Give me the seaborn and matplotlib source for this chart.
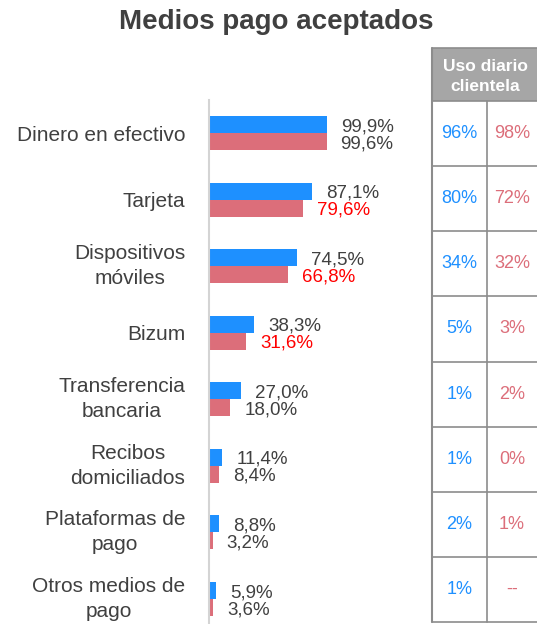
import matplotlib
matplotlib.use("Agg")
import matplotlib.pyplot as plt
from matplotlib.patches import Rectangle
import pandas as pd
import seaborn as sns

# Data
categories = ["Dinero en efectivo", "Tarjeta", "Dispositivos\nmóviles", "Bizum",
              "Transferencia\nbancaria", "Recibos\ndomiciliados",
              "Plataformas de\npago", "Otros medios de\npago"]
series = ["Serie azul", "Serie roja"]
blue_vals = [99.9, 87.1, 74.5, 38.3, 27.0, 11.4, 8.8, 5.9]
red_vals = [99.6, 79.6, 66.8, 31.6, 18.0, 8.4, 3.2, 3.6]
red_highlight = [False, True, True, True, False, False, False, False]
table_header = "Uso diario\nclientela"
uso_blue = ["96%", "80%", "34%", "5%", "1%", "1%", "2%", "1%"]
uso_red = ["98%", "72%", "32%", "3%", "2%", "0%", "1%", "--"]

BLUE = "#1e90ff"
RED = "#dc6e7a"
TXT = "#404040"

df = pd.DataFrame({
    "medio": categories * 2,
    "valor": blue_vals + red_vals,
    "serie": [series[0]] * len(categories) + [series[1]] * len(categories),
})

sns.set_style("white")
plt.rcParams["font.family"] = ["Liberation Sans", "DejaVu Sans"]

W, H = 537, 624
fig = plt.figure(figsize=(W / 100, H / 100), dpi=100)

# bar axes (pixel layout: left 209, top 100, bottom 624)
ax = fig.add_axes([209 / W, 0, (430 - 209) / W, (624 - 100) / H])
bar_w = 0.51
sns.barplot(data=df, x="valor", y="medio", hue="serie", orient="h",
            palette=[BLUE, RED], width=bar_w, saturation=1, legend=False,
            order=categories, hue_order=series, linewidth=0, ax=ax)
ax.set_xlim(0, 221 / 1.182)
ax.set_ylim(7.376, -0.496)
ax.set_xlabel("")
ax.set_ylabel("")
ax.set_xticks([])
for s in ["top", "right", "bottom"]:
    ax.spines[s].set_visible(False)
ax.spines["left"].set_color("#d4d4d4")
ax.spines["left"].set_linewidth(1.5)
ax.tick_params(axis="y", length=0, pad=17, labelsize=15, labelcolor=TXT)
for t in ax.get_yticklabels():
    t.set_multialignment("center")
    t.set_linespacing(1.4)
    if "\n" in t.get_text():
        t.set_verticalalignment("center")

# value labels
off = bar_w / 4
for i in range(len(categories)):
    for v, dy, col in [(blue_vals[i], -off, TXT),
                       (red_vals[i], off, "#ff0000" if red_highlight[i] else TXT)]:
        ax.annotate(f"{v:.1f}".replace(".", ",") + "%", xy=(v, i + dy),
                    xytext=(10, -1.5), textcoords="offset points",
                    ha="left", va="center", fontsize=13.5, color=col)

# title
fig.text(276 / W, 1 - 22 / H, "Medios pago aceptados", ha="center", va="center",
         fontsize=20, fontweight="bold", color=TXT)

# table drawn in pixel coordinates
tx = fig.add_axes([0, 0, 1, 1], zorder=5)
tx.set_xlim(0, W)
tx.set_ylim(H, 0)
tx.axis("off")
tx.patch.set_visible(False)

x0, xm, x1 = 432, 486.7, 537
top, head_b, bot = 48, 101, 622
row_h = (bot - head_b) / len(categories)
line_c = "#8c8c8c"
tx.add_patch(Rectangle((x0, top), x1 - x0, head_b - top, fc="#a6a6a6", ec="none"))
tx.text((x0 + x1) / 2 + 1, (top + head_b) / 2 + 2, table_header, ha="center", va="center",
        color="white", fontsize=12.5, fontweight="bold", linespacing=1.45)
tx.plot([x0, x0], [top, bot], color=line_c, lw=1.5)
tx.plot([xm, xm], [head_b, bot], color=line_c, lw=1.2)
tx.plot([x0, x1], [top, top], color=line_c, lw=1.2)
for k in range(len(categories) + 1):
    y = head_b + k * row_h
    tx.plot([x0, x1], [y, y], color=line_c, lw=1.2)
for i in range(len(categories)):
    yc = head_b + (i + 0.5) * row_h
    tx.text((x0 + xm) / 2, yc, uso_blue[i], ha="center", va="center",
            fontsize=13, color=BLUE)
    tx.text((xm + x1) / 2, yc, uso_red[i], ha="center", va="center",
            fontsize=13, color=RED)

fig.savefig("out.png", dpi=100)
